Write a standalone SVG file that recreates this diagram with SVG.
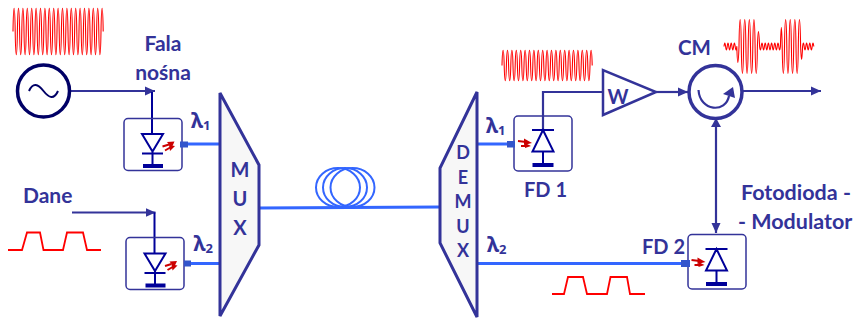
<svg xmlns="http://www.w3.org/2000/svg" width="855" height="320" viewBox="0 0 855 320">
<style>
text{font-family:Lato,"Noto Sans","Liberation Sans",sans-serif;font-weight:700;fill:#333399}
.l{font-size:21px}
.t{font-size:20px}
.m{font-size:20px;text-anchor:middle}
.g{font-family:"Noto Sans","DejaVu Sans",sans-serif;font-size:21px}
.s{font-size:13px}
.box{fill:none;stroke:#333399;stroke-width:1.500}
.d{fill:none;stroke:#000099;stroke-width:2}
.bar{fill:#000099}
.led{fill:none;stroke:#cc0000;stroke-width:2}
.ledh{fill:#cc0000}
.fib{fill:none;stroke:#3366ff;stroke-width:3}
.coil{fill:none;stroke:#3366ff;stroke-width:2}
.port{fill:#3355cc}
.con{fill:none;stroke:#333399;stroke-width:2.200}
.nav{fill:none;stroke:#000099;stroke-width:2}
.mx{fill:#f7f7f7;stroke:#333399;stroke-width:3}
.rf{fill:none;stroke:#ff0000;stroke-width:1.100;stroke-linejoin:round}
.pl{fill:none;stroke:#ff0000;stroke-width:1.800}
</style>
<defs>
<marker id="a" markerUnits="userSpaceOnUse" markerWidth="11" markerHeight="11" refX="10" refY="5.500" orient="auto"><path d="M0 1L10 5.500L0 10z" fill="#333399"/></marker>
<path id="carrier" d="M0 0c.5 -31 1.700 -31 2.200 0s1.700 31 2.200 0s1.700 -31 2.200 0s1.700 31 2.200 0s1.700 -31 2.200 0s1.700 31 2.200 0s1.700 -31 2.200 0s1.700 31 2.200 0s1.700 -31 2.200 0s1.700 31 2.200 0s1.700 -31 2.200 0s1.700 31 2.200 0s1.700 -31 2.200 0s1.700 31 2.200 0s1.700 -31 2.200 0s1.700 31 2.200 0s1.700 -31 2.200 0s1.700 31 2.200 0s1.700 -31 2.200 0s1.700 31 2.200 0s1.700 -31 2.200 0s1.700 31 2.200 0s1.700 -31 2.200 0s1.700 31 2.200 0s1.700 -31 2.200 0s1.700 31 2.200 0s1.700 -31 2.200 0s1.700 31 2.200 0s1.700 -31 2.200 0s1.700 31 2.200 0s1.700 -31 2.200 0s1.700 31 2.200 0s1.700 -31 2.200 0s1.700 31 2.200 0s1.700 -31 2.200 0s1.700 31 2.200 0s1.700 -31 2.200 0s1.700 31 2.200 0s1.700 -31 2.200 0s1.700 31 2.200 0s1.700 -31 2.200 0"/>
<g id="laser">
<path class="d" d="M142 134H163L152.500 151.500zM142 153.500H163M152.500 151.500V165"/>
<rect class="bar" x="143" y="164" width="20" height="4"/>
<path class="led" d="M162.500 146.500L169 144.500M165 150.500L171 147"/>
<path class="ledh" d="M167 142L174.500 141.500L171.500 148z"/>
<path class="ledh" d="M169 145L175 146L170 151z"/>
</g>
<g id="photo">
<path class="d" d="M532 130H554M543 130L532.500 151.500H553.500zM543 151.500V165"/>
<rect class="bar" x="532.500" y="163" width="21" height="4"/>
<path class="led" d="M518 141L526 142M521 146L527 146"/>
<path class="ledh" d="M524 138.500L532 143L524 145z"/>
<path class="ledh" d="M525 143L531 146L525 148z"/>
</g>
</defs>

<g id="connectors">
<path class="con" d="M71 91H155" marker-end="url(#a)"/>
<path class="nav" d="M152 92V134"/>
<path class="con" d="M72 212.500H155.500" marker-end="url(#a)"/>
<path class="nav" d="M154.500 212.500V253"/>
<path class="fib" d="M181 144H219"/>
<path class="fib" d="M184 263.500H220"/>
<path class="fib" d="M258 208L440 207"/>
<path class="fib" d="M478 144H515"/>
<path class="fib" d="M478 263.500H688"/>
<path class="con" d="M543 130V92H603"/>
<path class="con" d="M656 92H688" marker-end="url(#a)"/>
<path class="con" d="M743 91H821" marker-end="url(#a)"/>
<path class="con" d="M716 122V233" marker-end="url(#a)"/>
<path d="M716 118L721 127H711z" fill="#333399"/>
</g>

<g id="signals">
<use href="#carrier" class="rf" transform="translate(13 31.500)"/>
<use href="#carrier" class="rf" transform="translate(502 65.500) scale(1 .66)"/>
<path class="rf" d="M724 46.500q.8 -7 1.600 0t1.600 0t1.600 0t1.600 0t1.600 0t1.600 0t1.600 0t1.600 0q1 32 2.200 0c.5 -36 1.800 -36 2.300 0s1.800 36 2.300 0s1.800 -36 2.300 0s1.800 36 2.300 0s1.800 -36 2.300 0s1.800 36 2.300 0s1.800 -36 2.300 0s1.800 36 2.300 0q1 -30 2.200 0q.8 7 1.600 0t1.600 0t1.600 0t1.600 0t1.600 0t1.600 0t1.600 0t1.600 0t1.600 0t1.600 0t1.600 0t1.600 0t1.600 0q1 -38 1.800 0c.5 36 1.800 36 2.300 0s1.800 -36 2.300 0s1.800 36 2.300 0s1.800 -36 2.300 0s1.800 36 2.300 0s1.800 -36 2.300 0s1.800 36 2.300 0s1.800 -36 2.300 0q1 26 2 0q.8 -7 1.600 0t1.600 0t1.600 0t1.600 0t1.600 0t1.600 0t1.600 0"/>
<path class="pl" d="M8 250H22L27 232.500H40L43.500 250H63L67 232.500H83L87 250H101"/>
<path class="pl" d="M552 294H564L568 277H583L587 294H607L610.500 277H627L630 294H645"/>
</g>

<g id="source">
<circle cx="43.500" cy="91" r="26" fill="#fff" stroke="#000066" stroke-width="3.500"/>
<path d="M29 91C33 82 38 84 43.500 91S54 100 58 91" fill="none" stroke="#000066" stroke-width="2"/>
</g>
<g id="label-fala">
<text class="m" x="163" y="51" style="font-size:21px">Fala</text>
<text class="m" x="163" y="80" style="font-size:21px">nośna</text>
</g>
<g id="label-dane"><text class="l" x="23" y="203">Dane</text></g>

<g id="laser-1">
<rect class="box" x="124" y="118.500" width="58" height="52" rx="4"/>
<use href="#laser"/>
<rect class="port" x="180" y="141.500" width="8" height="6"/>
<text class="g" x="191" y="128">λ<tspan class="s" dy="2">1</tspan></text>
</g>
<g id="laser-2">
<rect class="box" x="126" y="237.500" width="58" height="52" rx="4"/>
<use href="#laser" transform="translate(2.500 119.500)"/>
<rect class="port" x="184" y="260.500" width="7" height="6"/>
<text class="g" x="193.500" y="251">λ<tspan class="s" dy="2">2</tspan></text>
</g>

<g id="mux">
<path class="mx" d="M220 93L259 165V245L220 316z"/>
<text class="m" x="240" y="177">M</text>
<text class="m" x="240" y="206">U</text>
<text class="m" x="240" y="235">X</text>
</g>

<g id="fiber-coil">
<ellipse class="coil" cx="338" cy="187.500" rx="22" ry="19.500"/>
<ellipse class="coil" cx="345" cy="187.500" rx="22" ry="19.500"/>
<ellipse class="coil" cx="352.500" cy="187.500" rx="22" ry="19.500"/>
</g>

<g id="demux">
<path class="mx" d="M477 92L440 168V243L477 317z"/>
<text class="m" x="463" y="159" style="font-size:18px">D</text>
<text class="m" x="463" y="184" style="font-size:18px">E</text>
<text class="m" x="463" y="208" style="font-size:18px">M</text>
<text class="m" x="463" y="233" style="font-size:18px">U</text>
<text class="m" x="463" y="257" style="font-size:18px">X</text>
<text class="g" x="486" y="133">λ<tspan class="s" dy="2">1</tspan></text>
<text class="g" x="487" y="252">λ<tspan class="s" dy="2">2</tspan></text>
</g>

<g id="fd-1">
<rect class="box" x="514" y="116" width="58" height="55" rx="4"/>
<use href="#photo"/>
<rect class="port" x="507" y="141" width="8" height="6.500"/>
<text class="t" x="524" y="197">FD 1</text>
</g>
<g id="fd-2">
<rect class="box" x="688" y="234.500" width="58" height="54.500" rx="4"/>
<use href="#photo" transform="translate(173.500 119)"/>
<rect class="port" x="681" y="260" width="9" height="7"/>
<text class="t" x="642" y="254">FD 2</text>
</g>

<g id="amplifier">
<path d="M603 70V115L656 92z" fill="#fff" stroke="#333399" stroke-width="2.500"/>
<text class="m" x="618" y="104" style="font-size:20px">W</text>
</g>

<g id="circulator">
<circle cx="715.500" cy="92" r="26.500" fill="#fff" stroke="#333399" stroke-width="3.500"/>
<path d="M698.500 90C700 112 726 113 729 96" fill="none" stroke="#333399" stroke-width="2.200"/>
<path d="M723 94L733 87L735 98z" fill="#333399"/>
<text class="m" x="694.500" y="55" style="font-size:20.500px">CM</text>
</g>

<g id="label-modulator">
<text class="l" x="741" y="200" style="font-size:21.500px">Fotodioda -</text>
<text class="l" x="738" y="229" style="font-size:21.500px">- Modulator</text>
</g>
</svg>
